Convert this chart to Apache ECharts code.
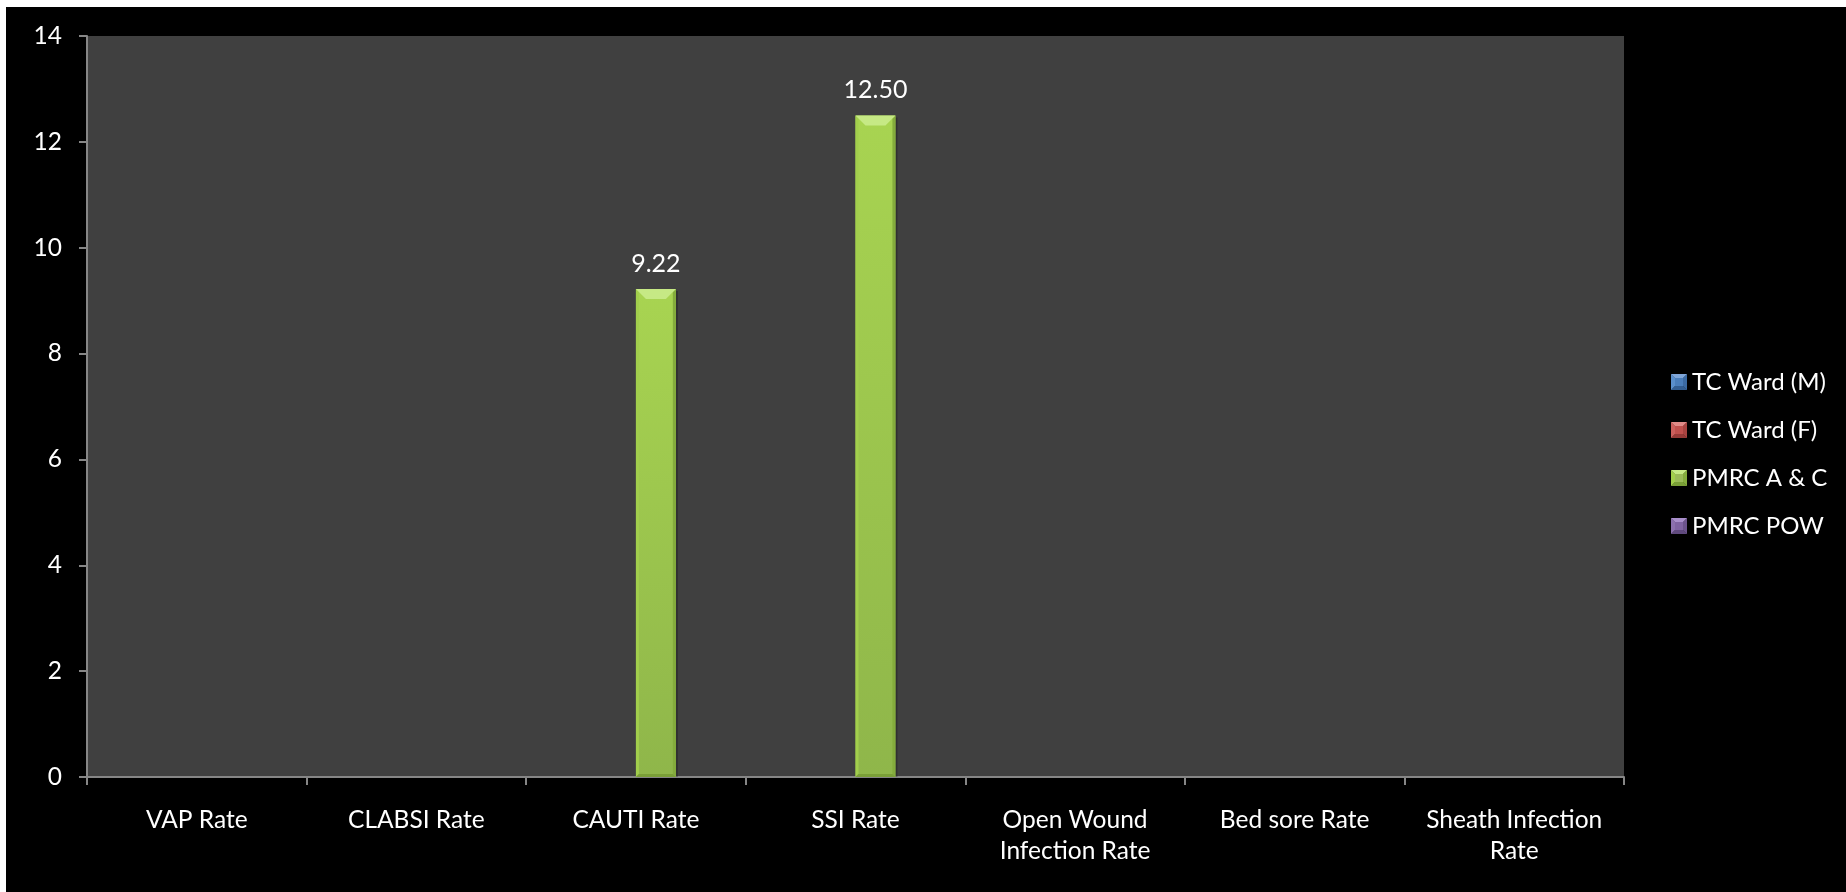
<!DOCTYPE html>
<html>
<head>
<meta charset="utf-8">
<script src="https://cdn.jsdelivr.net/npm/echarts@6/dist/echarts.min.js"></script>
<style>
  html, body { margin: 0; padding: 0; background: #ffffff; width: 1846px; height: 892px; overflow: hidden; }
  #chart { position: absolute; left: 6px; top: 7px; width: 1840px; height: 885px; background: #000000; }
</style>
</head>
<body>
<div id="chart"></div>
<script>
const categories = ['VAP Rate', 'CLABSI Rate', 'CAUTI Rate', 'SSI Rate', 'Open Wound\nInfection Rate', 'Bed sore Rate', 'Sheath Infection\nRate'];
const seriesNames = ['TC Ward (M)', 'TC Ward (F)', 'PMRC A & C', 'PMRC POW'];
const tcWardM = [null, null, null, null, null, null, null];
const tcWardF = [null, null, null, null, null, null, null];
const pmrcAC = [null, null, 9.22, 12.50, null, null, null];
const pmrcPOW = [null, null, null, null, null, null, null];
const yTicks = [0, 2, 4, 6, 8, 10, 12, 14];

const FONT = 'Lato';
const palettes = [
  { base: '#4a7ebb', top: '#7fa6d9', light: '#5a8fcc', dark: '#3b6aa3', bottom: '#335e92', bodyTop: '#5288c6', bodyBot: '#4272ad' },
  { base: '#c0504d', top: '#e08a87', light: '#cc5f5c', dark: '#a84340', bottom: '#963a37', bodyTop: '#cb5a57', bodyBot: '#b04643' },
  { base: '#9bbb59', top: '#c6e985', light: '#a2cf4c', dark: '#84ac3c', bottom: '#7a9f37', bodyTop: '#a8d451', bodyBot: '#8fb64a' },
  { base: '#8064a2', top: '#a98fcb', light: '#8c70ae', dark: '#6c538c', bottom: '#604a7e', bodyTop: '#886bab', bodyBot: '#735a93' }
];
const seriesData = [tcWardM, tcWardF, pmrcAC, pmrcPOW];

function makeIcon(i) {
  const p = palettes[i];
  const c = document.createElement('canvas');
  c.width = 32; c.height = 32;
  const g = c.getContext('2d');
  const tri = (pts, col) => { g.beginPath(); g.moveTo(pts[0][0], pts[0][1]); for (let k = 1; k < pts.length; k++) g.lineTo(pts[k][0], pts[k][1]); g.closePath(); g.fillStyle = col; g.fill(); };
  tri([[0, 0], [32, 0], [16, 16]], p.top);
  tri([[0, 0], [16, 16], [0, 32]], p.light);
  tri([[32, 0], [32, 32], [16, 16]], p.dark);
  tri([[0, 32], [16, 16], [32, 32]], p.bottom);
  g.fillStyle = p.base;
  g.fillRect(8, 8, 16, 16);
  return c.toDataURL('image/png');
}

function makeRender(idx) {
  const p = palettes[idx];
  return function (params, api) {
    const v = api.value(1);
    if (v == null || isNaN(v)) return;
    const cat = api.value(0);
    const base = api.coord([cat, 0]);
    const topPt = api.coord([cat, v]);
    const catW = api.size([1, 0])[0];
    const w = catW / 5.5;
    const cx = base[0] + (idx - 1.5) * w;
    const x0 = cx - w / 2, x1 = cx + w / 2;
    const y0 = topPt[1], y1 = base[1];
    const b = Math.min(10, (y1 - y0) / 2);
    const s = 3;
    return {
      type: 'group',
      children: [
        { type: 'rect', shape: { x: x0 + 2, y: y0 + 2, width: w, height: y1 - y0 - 2 },
          style: { fill: 'rgba(0,0,0,0.25)' } },
        { type: 'rect', shape: { x: x0, y: y0, width: w, height: y1 - y0 },
          style: { fill: new echarts.graphic.LinearGradient(0, 0, 0, 1, [
            { offset: 0, color: p.bodyTop }, { offset: 1, color: p.bodyBot }]) } },
        { type: 'polygon', shape: { points: [[x0, y0], [x0 + s, y0 + s], [x0 + s, y1 - s], [x0, y1]] },
          style: { fill: p.light } },
        { type: 'polygon', shape: { points: [[x1, y0], [x1 - s, y0 + s], [x1 - s, y1 - s], [x1, y1]] },
          style: { fill: p.dark } },
        { type: 'polygon', shape: { points: [[x0, y1], [x0 + s, y1 - s], [x1 - s, y1 - s], [x1, y1]] },
          style: { fill: p.bottom } },
        { type: 'polygon', shape: { points: [[x0, y0], [x1, y0], [x1 - b, y0 + b], [x0 + b, y0 + b]] },
          style: { fill: p.top } },
        { type: 'text', x: cx, y: y0 - 13,
          style: { text: v.toFixed(2), fill: '#ffffff', font: '25px ' + FONT, textAlign: 'center', textVerticalAlign: 'bottom' } }
      ]
    };
  };
}

const chart = echarts.init(document.getElementById('chart'), null, { renderer: 'canvas' });
chart.setOption({
  backgroundColor: '#000000',
  animation: false,
  textStyle: { fontFamily: FONT },
  grid: { left: 81, top: 29, right: 222, bottom: 115, show: true, backgroundColor: '#404040', borderWidth: 0 },
  legend: {
    orient: 'vertical',
    left: 1660,
    top: 358,
    itemWidth: 16,
    itemHeight: 16,
    itemGap: 24,
    textStyle: { color: '#ffffff', fontSize: 24, fontFamily: FONT },
    data: seriesNames.map((n, i) => ({ name: n, icon: 'image://' + makeIcon(i) }))
  },
  xAxis: {
    type: 'category',
    data: categories,
    boundaryGap: true,
    axisLine: { lineStyle: { color: '#868686', width: 2 } },
    axisTick: { show: true, length: 8, alignWithLabel: false, lineStyle: { color: '#868686', width: 2 } },
    axisLabel: { color: '#ffffff', fontSize: 24.5, fontFamily: FONT, margin: 28, lineHeight: 31, interval: 0 },
    splitLine: { show: false }
  },
  yAxis: {
    type: 'value',
    min: yTicks[0],
    max: yTicks[yTicks.length - 1],
    interval: 2,
    axisLine: { show: true, lineStyle: { color: '#868686', width: 2 } },
    axisTick: { show: true, length: 8, lineStyle: { color: '#868686', width: 2 } },
    axisLabel: { color: '#ffffff', fontSize: 24.5, fontFamily: FONT, margin: 25 },
    splitLine: { show: false }
  },
  series: seriesNames.map((name, i) => ({
    type: 'custom',
    name: name,
    itemStyle: { color: palettes[i].base },
    renderItem: makeRender(i),
    encode: { x: 0, y: 1 },
    data: seriesData[i].map((v, j) => [j, v])
  }))
});
</script>
</body>
</html>
